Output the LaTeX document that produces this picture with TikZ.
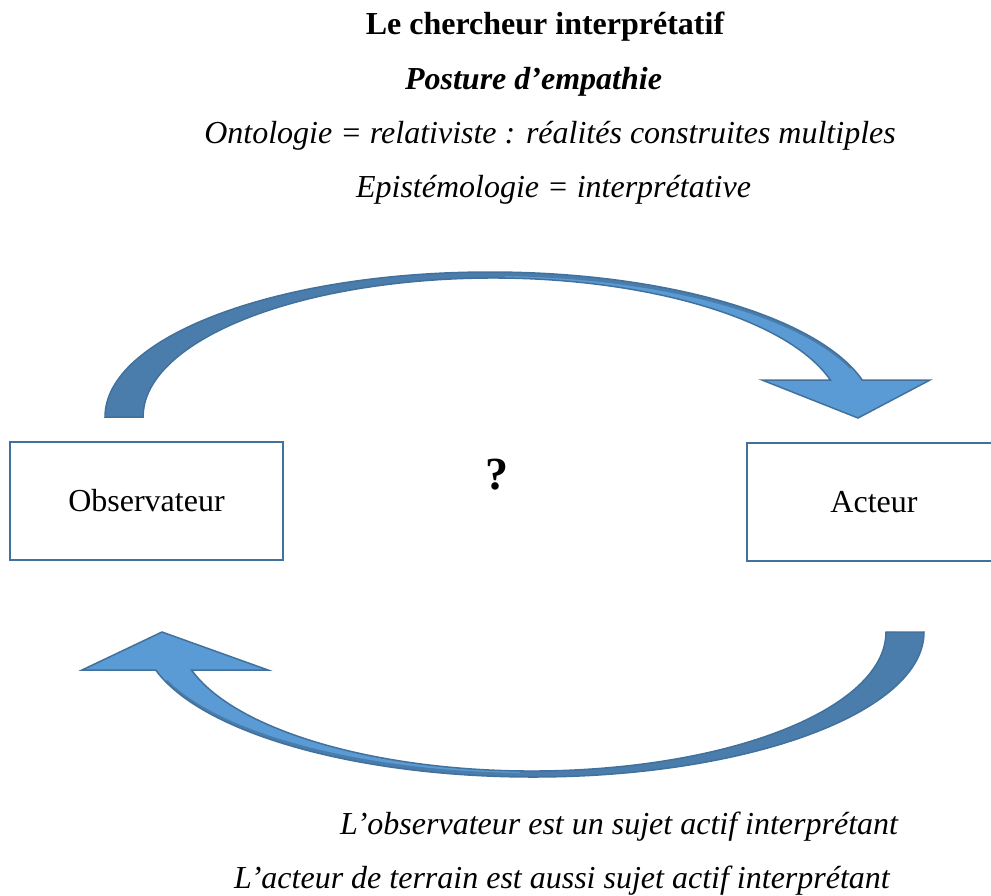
\documentclass[tikz,border=0pt]{standalone}
\usepackage{fontspec}
\setmainfont{Liberation Serif}
\definecolor{arrlight}{HTML}{5B9BD5}
\definecolor{arrdark}{HTML}{4A7DAB}
\definecolor{arredge}{HTML}{41719C}
\begin{document}
\begin{tikzpicture}[x=1pt,y=1pt,
  txt/.style={font=\fontsize{32}{38}\selectfont, inner sep=0pt, anchor=base},
  boxnode/.style={draw=arredge, line width=2pt, minimum height=118pt, inner sep=0pt, font=\fontsize{32}{38}\selectfont},
  bandline/.style={draw=arredge, line width=1.5pt, line join=miter},
  backside/.style={fill=arrdark}]
\useasboundingbox (0,0) rectangle (991,-895);
\clip (0,0) rectangle (991,-895);

% texts
\node[txt, font=\fontsize{32}{38}\selectfont\bfseries] (title) at (545,-34) {Le chercheur interprétatif};
\node[txt, font=\fontsize{32}{38}\selectfont\bfseries\itshape] (posture) at (533.5,-89) {Posture d’empathie};
\node[txt, font=\fontsize{32}{38}\selectfont\itshape] (onto) at (550,-143) {Ontologie = relativiste : réalités construites multiples};
\node[txt, font=\fontsize{32}{38}\selectfont\itshape] (episte) at (553.5,-197) {Epistémologie = interprétative};
\node[txt, anchor=base west, font=\fontsize{32}{38}\selectfont\itshape] (obsline) at (340,-834) {L’observateur est un sujet actif interprétant};
\node[txt, anchor=base west, font=\fontsize{32}{38}\selectfont\itshape] (actline) at (234,-888) {L’acteur de terrain est aussi sujet actif interprétant};

% boxes
\node[boxnode, minimum width=273pt] (obs) at (146.5,-501) {Observateur};
\node[boxnode, minimum width=254pt] (act) at (874,-502) {Acteur};
\node[font=\fontsize{46}{50}\selectfont\bfseries, inner sep=0pt] (q) at (497,-475) {?};

% top curved arrow
\fill[arrlight] (105,-417) arc[start angle=180, end angle=14.78, x radius=385pt, y radius=145pt]
  -- (930,-380) -- (858,-418) -- (762,-380) -- (830.4,-380)
  arc[start angle=15.44, end angle=180, x radius=350pt, y radius=139pt] -- cycle;
\fill[backside] (105,-417) arc[start angle=180, end angle=88, x radius=385pt, y radius=145pt]
  -- (505.2,-278.1) arc[start angle=88, end angle=180, x radius=350pt, y radius=139pt] -- cycle;
\fill[backside] (503.4,-272.1) arc[start angle=88, end angle=20, x radius=385pt, y radius=145pt]
  -- (850,-368.8) arc[start angle=20, end angle=88, x radius=383pt, y radius=141pt] -- cycle;
\draw[bandline] (105,-417) arc[start angle=180, end angle=14.78, x radius=385pt, y radius=145pt]
  -- (930,-380) -- (858,-418) -- (762,-380) -- (830.4,-380)
  arc[start angle=15.44, end angle=180, x radius=350pt, y radius=139pt] -- cycle;

% bottom curved arrow
\fill[arrlight] (924,-632) arc[start angle=0, end angle=-164.81, x radius=391pt, y radius=145pt]
  -- (82,-670) -- (162,-632) -- (268,-670) -- (191.5,-670)
  arc[start angle=-164.13, end angle=0, x radius=354pt, y radius=139pt] -- cycle;
\fill[backside] (924,-632) arc[start angle=0, end angle=-92, x radius=391pt, y radius=145pt]
  -- (519.6,-770.9) arc[start angle=-92, end angle=0, x radius=354pt, y radius=139pt] -- cycle;
\fill[backside] (519.4,-776.9) arc[start angle=-92, end angle=-160, x radius=391pt, y radius=145pt]
  -- (167.5,-680.2) arc[start angle=-160, end angle=-92, x radius=389pt, y radius=141pt] -- cycle;
\draw[bandline] (924,-632) arc[start angle=0, end angle=-164.81, x radius=391pt, y radius=145pt]
  -- (82,-670) -- (162,-632) -- (268,-670) -- (191.5,-670)
  arc[start angle=-164.13, end angle=0, x radius=354pt, y radius=139pt] -- cycle;
\end{tikzpicture}
\end{document}
